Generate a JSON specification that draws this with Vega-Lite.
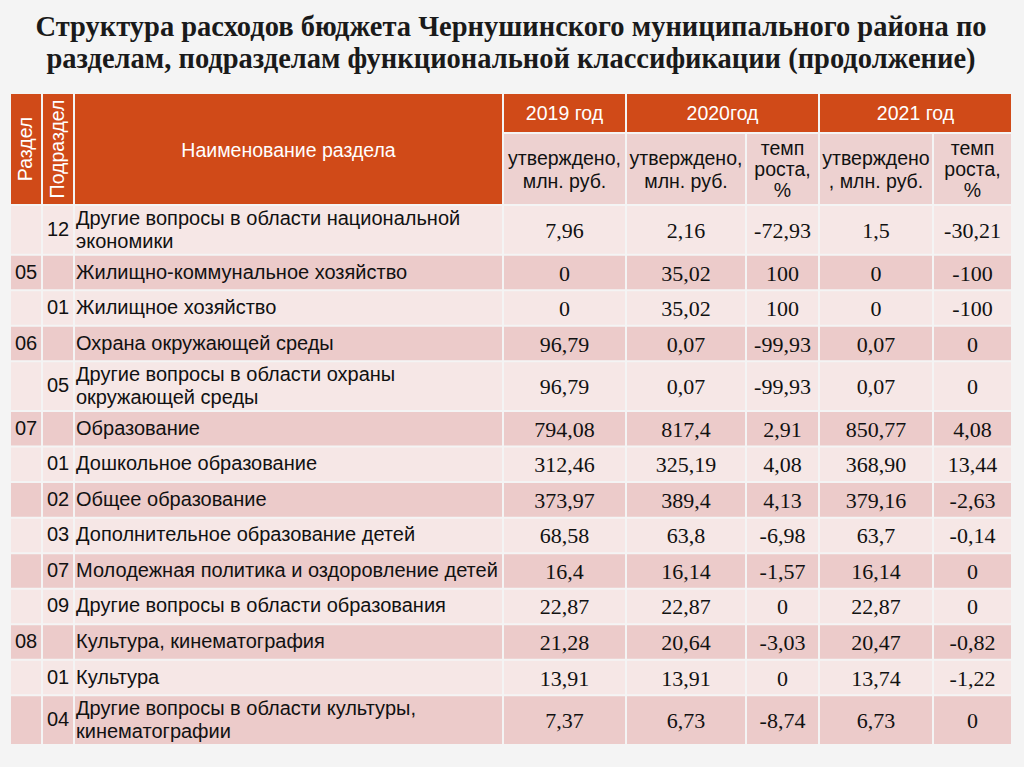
{
  "$schema": "https://vega.github.io/schema/vega-lite/v6.json",
  "background": "#f4f4f4",
  "padding": {"left": 11, "top": 12, "right": 13, "bottom": 22},
  "title": {
    "text": ["Структура расходов бюджета Чернушинского муниципального района по", "разделам, подразделам функциональной классификации (продолжение)"],
    "font": "Liberation Serif", "fontWeight": "bold", "fontSize": 28.5, "lineHeight": 32,
    "color": "#1a1a1a", "anchor": "middle", "offset": 21
  },
  "config": {
    "view": {"stroke": null},
    "concat": {"spacing": 2}
  },
  "datasets": {
    "rows": [
      {"row": 1, "razdel": "", "pod": "12", "name": ["Другие вопросы в области национальной", "экономики"], "v2019": "7,96", "v2020": "2,16", "t2020": "-72,93", "v2021": "1,5", "t2021": "-30,21"},
      {"row": 2, "razdel": "05", "pod": "", "name": "Жилищно-коммунальное хозяйство", "v2019": "0", "v2020": "35,02", "t2020": "100", "v2021": "0", "t2021": "-100"},
      {"row": 3, "razdel": "", "pod": "01", "name": "Жилищное хозяйство", "v2019": "0", "v2020": "35,02", "t2020": "100", "v2021": "0", "t2021": "-100"},
      {"row": 4, "razdel": "06", "pod": "", "name": "Охрана окружающей среды", "v2019": "96,79", "v2020": "0,07", "t2020": "-99,93", "v2021": "0,07", "t2021": "0"},
      {"row": 5, "razdel": "", "pod": "05", "name": ["Другие вопросы в области охраны", "окружающей среды"], "v2019": "96,79", "v2020": "0,07", "t2020": "-99,93", "v2021": "0,07", "t2021": "0"},
      {"row": 6, "razdel": "07", "pod": "", "name": "Образование", "v2019": "794,08", "v2020": "817,4", "t2020": "2,91", "v2021": "850,77", "t2021": "4,08"},
      {"row": 7, "razdel": "", "pod": "01", "name": "Дошкольное образование", "v2019": "312,46", "v2020": "325,19", "t2020": "4,08", "v2021": "368,90", "t2021": "13,44"},
      {"row": 8, "razdel": "", "pod": "02", "name": "Общее образование", "v2019": "373,97", "v2020": "389,4", "t2020": "4,13", "v2021": "379,16", "t2021": "-2,63"},
      {"row": 9, "razdel": "", "pod": "03", "name": "Дополнительное образование детей", "v2019": "68,58", "v2020": "63,8", "t2020": "-6,98", "v2021": "63,7", "t2021": "-0,14"},
      {"row": 10, "razdel": "", "pod": "07", "name": "Молодежная политика и оздоровление детей", "v2019": "16,4", "v2020": "16,14", "t2020": "-1,57", "v2021": "16,14", "t2021": "0"},
      {"row": 11, "razdel": "", "pod": "09", "name": "Другие вопросы в области образования", "v2019": "22,87", "v2020": "22,87", "t2020": "0", "v2021": "22,87", "t2021": "0"},
      {"row": 12, "razdel": "08", "pod": "", "name": "Культура, кинематография", "v2019": "21,28", "v2020": "20,64", "t2020": "-3,03", "v2021": "20,47", "t2021": "-0,82"},
      {"row": 13, "razdel": "", "pod": "01", "name": "Культура", "v2019": "13,91", "v2020": "13,91", "t2020": "0", "v2021": "13,74", "t2021": "-1,22"},
      {"row": 14, "razdel": "", "pod": "04", "name": ["Другие вопросы в области культуры,", "кинематографии"], "v2019": "7,37", "v2020": "6,73", "t2020": "-8,74", "v2021": "6,73", "t2021": "0"}
    ]
  },
  "spacing": 2,
  "vconcat": [
    {
      "spacing": 2,
      "hconcat": [
        {"data": {"values": [{"label": "Раздел"}]}, "width": 30, "height": 110,
         "layer": [
           {"mark": {"type": "rect", "color": "#D04A18"}, "encoding": {}},
           {"mark": {"type": "text", "angle": 270, "font": "Liberation Sans", "fontSize": 19.5, "color": "#ffffff", "baseline": "middle", "align": "center", "clip": true}, "encoding": {"text": {"field": "label"}}}
         ]},
        {"data": {"values": [{"label": "Подраздел"}]}, "width": 30, "height": 110,
         "layer": [
           {"mark": {"type": "rect", "color": "#D04A18"}, "encoding": {}},
           {"mark": {"type": "text", "angle": 270, "font": "Liberation Sans", "fontSize": 19.5, "color": "#ffffff", "baseline": "middle", "align": "center", "clip": true}, "encoding": {"text": {"field": "label"}}}
         ]},
        {"data": {"values": [{"label": "Наименование раздела"}]}, "width": 427, "height": 110,
         "layer": [
           {"mark": {"type": "rect", "color": "#D04A18"}, "encoding": {}},
           {"mark": {"type": "text", "font": "Liberation Sans", "fontSize": 19.5, "color": "#ffffff", "baseline": "middle", "align": "center", "dy": 2, "clip": true}, "encoding": {"text": {"field": "label"}}}
         ]},
        {
          "bounds": "flush", "spacing": 2,
          "vconcat": [
            {"data": {"values": [{"label": "2019 год"}]}, "width": 121, "height": 38,
             "layer": [
               {"mark": {"type": "rect", "color": "#D04A18"}, "encoding": {}},
               {"mark": {"type": "text", "font": "Liberation Sans", "fontSize": 19.5, "color": "#ffffff", "baseline": "middle", "align": "center", "dy": 1, "clip": true}, "encoding": {"text": {"field": "label"}}}
             ]},
            {"data": {"values": [{"label": ["утверждено,", "млн. руб."]}]}, "width": 121, "height": 70,
             "layer": [
               {"mark": {"type": "rect", "color": "#EDD1D0"}, "encoding": {}},
               {"mark": {"type": "text", "font": "Liberation Sans", "fontSize": 19.5, "lineHeight": 23, "color": "#111111", "baseline": "middle", "align": "center", "dy": -10, "clip": true}, "encoding": {"text": {"field": "label"}}}
             ]}
          ]
        },
        {
          "spacing": 2,
          "vconcat": [
            {"data": {"values": [{"label": "2020год"}]}, "width": 191, "height": 38,
             "layer": [
               {"mark": {"type": "rect", "color": "#D04A18"}, "encoding": {}},
               {"mark": {"type": "text", "font": "Liberation Sans", "fontSize": 19.5, "color": "#ffffff", "baseline": "middle", "align": "center", "dy": 1, "clip": true}, "encoding": {"text": {"field": "label"}}}
             ]},
            {
              "bounds": "flush", "spacing": 2,
              "hconcat": [
                {"data": {"values": [{"label": ["утверждено,", "млн. руб."]}]}, "width": 118, "height": 70,
                 "layer": [
                   {"mark": {"type": "rect", "color": "#EDD1D0"}, "encoding": {}},
                   {"mark": {"type": "text", "font": "Liberation Sans", "fontSize": 19.5, "lineHeight": 23, "color": "#111111", "baseline": "middle", "align": "center", "dy": -10, "clip": true}, "encoding": {"text": {"field": "label"}}}
                 ]},
                {"data": {"values": [{"label": ["темп", "роста,", "%"]}]}, "width": 71, "height": 70,
                 "layer": [
                   {"mark": {"type": "rect", "color": "#EDD1D0"}, "encoding": {}},
                   {"mark": {"type": "text", "font": "Liberation Sans", "fontSize": 19.5, "lineHeight": 21, "color": "#111111", "baseline": "middle", "align": "center", "dy": -20, "clip": true}, "encoding": {"text": {"field": "label"}}}
                 ]}
              ]
            }
          ]
        },
        {
          "spacing": 2,
          "vconcat": [
            {"data": {"values": [{"label": "2021 год"}]}, "width": 191, "height": 38,
             "layer": [
               {"mark": {"type": "rect", "color": "#D04A18"}, "encoding": {}},
               {"mark": {"type": "text", "font": "Liberation Sans", "fontSize": 19.5, "color": "#ffffff", "baseline": "middle", "align": "center", "dy": 1, "clip": true}, "encoding": {"text": {"field": "label"}}}
             ]},
            {
              "bounds": "flush", "spacing": 2,
              "hconcat": [
                {"data": {"values": [{"label": ["утверждено", ", млн. руб."]}]}, "width": 112, "height": 70,
                 "layer": [
                   {"mark": {"type": "rect", "color": "#EDD1D0"}, "encoding": {}},
                   {"mark": {"type": "text", "font": "Liberation Sans", "fontSize": 19.5, "lineHeight": 23, "color": "#111111", "baseline": "middle", "align": "center", "dy": -10, "clip": true}, "encoding": {"text": {"field": "label"}}}
                 ]},
                {"data": {"values": [{"label": ["темп", "роста,", "%"]}]}, "width": 77, "height": 70,
                 "layer": [
                   {"mark": {"type": "rect", "color": "#EDD1D0"}, "encoding": {}},
                   {"mark": {"type": "text", "font": "Liberation Sans", "fontSize": 19.5, "lineHeight": 21, "color": "#111111", "baseline": "middle", "align": "center", "dy": -20, "clip": true}, "encoding": {"text": {"field": "label"}}}
                 ]}
              ]
            }
          ]
        }
      ]
    },
    {
      "data": {"name": "rows"},
      "transform": [
        {"calculate": "isArray(datum.name) ? 1.4 : 1", "as": "h"},
        {"window": [{"op": "sum", "field": "h", "as": "y1"}], "sort": [{"field": "row", "order": "ascending"}], "frame": [null, 0]},
        {"calculate": "datum.y1 - datum.h", "as": "y0"},
        {"calculate": "datum.y1 - datum.h / 2", "as": "ym"}
      ],
      "bounds": "flush",
      "spacing": 2,
      "hconcat": [
        {"width": 30, "height": 540, "layer": [
          {"mark": {"type": "rect", "y2Offset": -2}, "encoding": {"y": {"field": "y0", "type": "quantitative", "scale": {"reverse": true, "nice": false, "zero": true}, "axis": null}, "y2": {"field": "y1"}, "color": {"condition": {"test": "datum.row % 2 == 0", "value": "#ECCBCA"}, "value": "#F6E7E6"}}},
          {"mark": {"type": "text", "font": "Liberation Sans", "fontSize": 20, "color": "#111111", "baseline": "middle", "align": "center", "dy": -1}, "encoding": {"y": {"field": "ym", "type": "quantitative"}, "text": {"field": "razdel"}}}
        ]},
        {"width": 30, "height": 540, "layer": [
          {"mark": {"type": "rect", "y2Offset": -2}, "encoding": {"y": {"field": "y0", "type": "quantitative", "scale": {"reverse": true, "nice": false, "zero": true}, "axis": null}, "y2": {"field": "y1"}, "color": {"condition": {"test": "datum.row % 2 == 0", "value": "#ECCBCA"}, "value": "#F6E7E6"}}},
          {"mark": {"type": "text", "font": "Liberation Sans", "fontSize": 20, "color": "#111111", "baseline": "middle", "align": "center", "dy": -1}, "encoding": {"y": {"field": "ym", "type": "quantitative"}, "text": {"field": "pod"}}}
        ]},
        {"width": 427, "height": 540, "layer": [
          {"mark": {"type": "rect", "y2Offset": -2}, "encoding": {"y": {"field": "y0", "type": "quantitative", "scale": {"reverse": true, "nice": false, "zero": true}, "axis": null}, "y2": {"field": "y1"}, "color": {"condition": {"test": "datum.row % 2 == 0", "value": "#ECCBCA"}, "value": "#F6E7E6"}}},
          {"transform": [{"filter": "!isArray(datum.name)"}],
           "mark": {"type": "text", "font": "Liberation Sans", "fontSize": 20, "color": "#111111", "baseline": "middle", "align": "left", "dx": 1, "dy": -1}, "encoding": {"x": {"value": 0}, "y": {"field": "ym", "type": "quantitative"}, "text": {"field": "name"}}},
          {"transform": [{"filter": "isArray(datum.name)"}],
           "mark": {"type": "text", "font": "Liberation Sans", "fontSize": 20, "lineHeight": 23, "color": "#111111", "baseline": "middle", "align": "left", "dx": 1, "dy": -12}, "encoding": {"x": {"value": 0}, "y": {"field": "ym", "type": "quantitative"}, "text": {"field": "name"}}}
        ]},
        {"width": 121, "height": 540, "layer": [
          {"mark": {"type": "rect", "y2Offset": -2}, "encoding": {"y": {"field": "y0", "type": "quantitative", "scale": {"reverse": true, "nice": false, "zero": true}, "axis": null}, "y2": {"field": "y1"}, "color": {"condition": {"test": "datum.row % 2 == 0", "value": "#ECCBCA"}, "value": "#F6E7E6"}}},
          {"mark": {"type": "text", "font": "Liberation Serif", "fontSize": 22, "color": "#111111", "baseline": "middle", "align": "center"}, "encoding": {"y": {"field": "ym", "type": "quantitative"}, "text": {"field": "v2019"}}}
        ]},
        {"width": 118, "height": 540, "layer": [
          {"mark": {"type": "rect", "y2Offset": -2}, "encoding": {"y": {"field": "y0", "type": "quantitative", "scale": {"reverse": true, "nice": false, "zero": true}, "axis": null}, "y2": {"field": "y1"}, "color": {"condition": {"test": "datum.row % 2 == 0", "value": "#ECCBCA"}, "value": "#F6E7E6"}}},
          {"mark": {"type": "text", "font": "Liberation Serif", "fontSize": 22, "color": "#111111", "baseline": "middle", "align": "center"}, "encoding": {"y": {"field": "ym", "type": "quantitative"}, "text": {"field": "v2020"}}}
        ]},
        {"width": 71, "height": 540, "layer": [
          {"mark": {"type": "rect", "y2Offset": -2}, "encoding": {"y": {"field": "y0", "type": "quantitative", "scale": {"reverse": true, "nice": false, "zero": true}, "axis": null}, "y2": {"field": "y1"}, "color": {"condition": {"test": "datum.row % 2 == 0", "value": "#ECCBCA"}, "value": "#F6E7E6"}}},
          {"mark": {"type": "text", "font": "Liberation Serif", "fontSize": 22, "color": "#111111", "baseline": "middle", "align": "center"}, "encoding": {"y": {"field": "ym", "type": "quantitative"}, "text": {"field": "t2020"}}}
        ]},
        {"width": 112, "height": 540, "layer": [
          {"mark": {"type": "rect", "y2Offset": -2}, "encoding": {"y": {"field": "y0", "type": "quantitative", "scale": {"reverse": true, "nice": false, "zero": true}, "axis": null}, "y2": {"field": "y1"}, "color": {"condition": {"test": "datum.row % 2 == 0", "value": "#ECCBCA"}, "value": "#F6E7E6"}}},
          {"mark": {"type": "text", "font": "Liberation Serif", "fontSize": 22, "color": "#111111", "baseline": "middle", "align": "center"}, "encoding": {"y": {"field": "ym", "type": "quantitative"}, "text": {"field": "v2021"}}}
        ]},
        {"width": 77, "height": 540, "layer": [
          {"mark": {"type": "rect", "y2Offset": -2}, "encoding": {"y": {"field": "y0", "type": "quantitative", "scale": {"reverse": true, "nice": false, "zero": true}, "axis": null}, "y2": {"field": "y1"}, "color": {"condition": {"test": "datum.row % 2 == 0", "value": "#ECCBCA"}, "value": "#F6E7E6"}}},
          {"mark": {"type": "text", "font": "Liberation Serif", "fontSize": 22, "color": "#111111", "baseline": "middle", "align": "center"}, "encoding": {"y": {"field": "ym", "type": "quantitative"}, "text": {"field": "t2021"}}}
        ]}
      ]
    }
  ]
}
